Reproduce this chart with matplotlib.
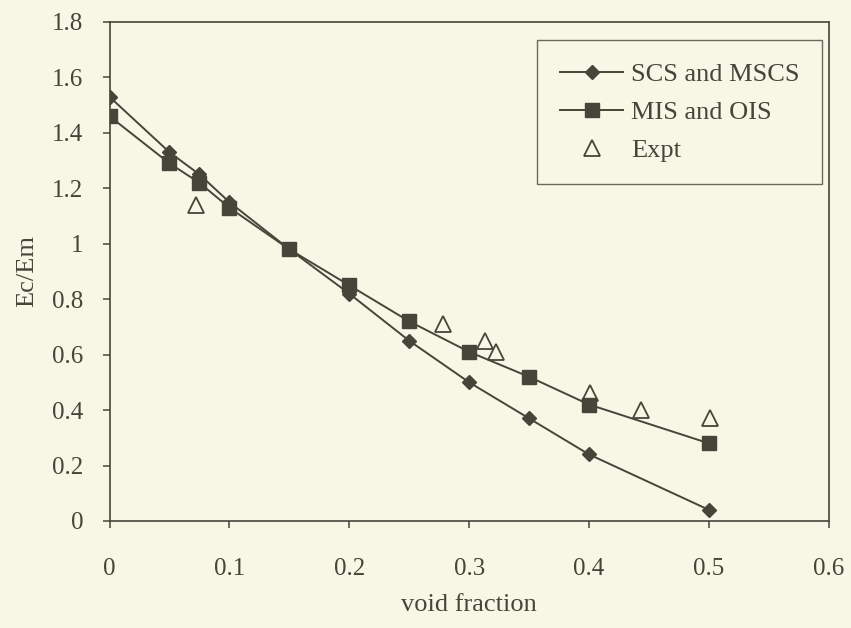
import matplotlib.pyplot as plt

# Data
void_fraction = [0, 0.05, 0.075, 0.1, 0.15, 0.2, 0.25, 0.3, 0.35, 0.4, 0.5]
scs_mscs = [1.53, 1.33, 1.25, 1.15, 0.98, 0.82, 0.65, 0.50, 0.37, 0.24, 0.04]
mis_ois = [1.46, 1.29, 1.22, 1.13, 0.98, 0.85, 0.72, 0.61, 0.52, 0.42, 0.28]

expt_x = [0.072, 0.278, 0.313, 0.322, 0.401, 0.443, 0.501]
expt_y = [1.14, 0.71, 0.65, 0.61, 0.46, 0.40, 0.37]

x_ticks = [0, 0.1, 0.2, 0.3, 0.4, 0.5, 0.6]
x_labels = ["0", "0.1", "0.2", "0.3", "0.4", "0.5", "0.6"]
y_ticks = [0, 0.2, 0.4, 0.6, 0.8, 1.0, 1.2, 1.4, 1.6, 1.8]
y_labels = ["0", "0.2", "0.4", "0.6", "0.8", "1", "1.2", "1.4", "1.6", "1.8"]

bg = "#f7f7e6"
ink = "#45453a"

plt.rcParams["font.family"] = ["Liberation Serif", "DejaVu Serif"]

fig = plt.figure(figsize=(8.51, 6.28), dpi=100, facecolor=bg)
ax = fig.add_axes([0.1287, 0.1704, 0.8453, 0.7946], facecolor=bg)

ax.plot(void_fraction, scs_mscs, color=ink, lw=1.4, marker="D", ms=7,
        mfc=ink, mec=ink, label="SCS and MSCS")
ax.plot(void_fraction, mis_ois, color=ink, lw=1.4, marker="s", ms=9.5,
        mfc=ink, mec=ink, label="MIS and OIS")
ax.plot(expt_x, expt_y, ls="none", marker="^", ms=11, mfc="none",
        mec=ink, mew=1.3, label="Expt")

ax.set_xlim(0, 0.6)
ax.set_ylim(0, 1.8)
ax.set_xticks(x_ticks)
ax.set_xticklabels(x_labels)
ax.set_yticks(y_ticks)
ax.set_yticklabels(y_labels)

for side in ax.spines.values():
    side.set_color(ink)
    side.set_linewidth(1.2)
ax.tick_params(axis="both", colors=ink, labelsize=18, length=5, width=1.1,
               direction="out")
ax.tick_params(axis="x", pad=22)
ax.tick_params(axis="y", pad=14)

ax.set_xlabel("void fraction", fontsize=19, color=ink, labelpad=10)
ax.set_ylabel("Ec/Em", fontsize=19, color=ink, labelpad=10)

leg = ax.legend(loc="upper right", bbox_to_anchor=(0.966, 0.936),
                bbox_transform=fig.transFigure, fontsize=19, frameon=True,
                fancybox=False, handlelength=2.4, labelspacing=0.55,
                borderpad=0.85, handletextpad=0.3, borderaxespad=0)
leg.get_frame().set_edgecolor(ink)
leg.get_frame().set_facecolor(bg)
leg.get_frame().set_linewidth(1.0)
for t in leg.get_texts():
    t.set_color(ink)

fig.savefig("out.png", dpi=100, facecolor=bg)
